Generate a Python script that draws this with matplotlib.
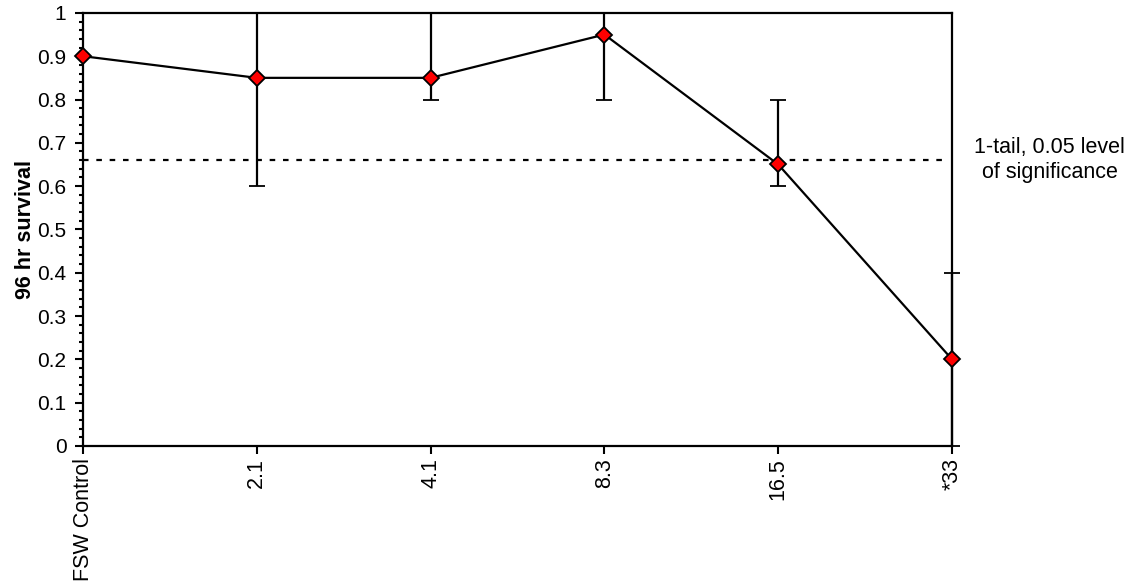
import matplotlib.pyplot as plt
import numpy as np
from matplotlib.ticker import MultipleLocator, FuncFormatter

plt.rcParams['font.family'] = ['Liberation Sans', 'DejaVu Sans']

# survival at 96 hr per treatment
concentracoes = ['FSW Control', '2.1', '4.1', '8.3', '16.5', '*33']
sobrevivencia = [0.9, 0.85, 0.85, 0.95, 0.65, 0.2]
limite_inf = [0.9, 0.6, 0.8, 0.8, 0.6, 0.0]
limite_sup = [0.9, 1.0, 1.0, 1.0, 0.8, 0.4]
significancia = 0.66

x = np.arange(len(concentracoes))
y = np.array(sobrevivencia)
erro = [y - np.array(limite_inf), np.array(limite_sup) - y]

fig = plt.figure(figsize=(11.47, 5.86), dpi=100)
ax = fig.add_axes([0.0724, 0.239, 0.7576, 0.739])

ax.errorbar(x, y, yerr=erro, color='black', lw=1.6, capsize=6, capthick=1.6,
            marker='D', markersize=8, markerfacecolor='red',
            markeredgecolor='black', markeredgewidth=1.3, clip_on=False, zorder=3)
ax.plot([0, 4.95], [significancia, significancia], color='black', lw=1.6,
        linestyle=(0, (2.5, 3.5)))

ax.set_xlim(0, 5)
ax.set_ylim(0, 1)
ax.set_xticks(x)
ax.set_xticklabels(concentracoes, rotation=90, fontsize=15.5)
ax.yaxis.set_major_locator(MultipleLocator(0.1))
ax.yaxis.set_minor_locator(MultipleLocator(0.02))
ax.yaxis.set_major_formatter(FuncFormatter(lambda v, p: '%g' % round(v, 2)))
ax.tick_params(axis='y', which='major', direction='out', length=6, width=1.5, labelsize=15, pad=6)
ax.tick_params(axis='y', which='minor', direction='out', length=3, width=1.5)
ax.tick_params(axis='x', direction='out', length=6, width=1.5, pad=3)
ax.set_ylabel('96 hr survival', fontsize=15.5, fontweight='bold', labelpad=1)
for s in ax.spines.values():
    s.set_linewidth(1.6)

fig.text(0.915, 0.727, '1-tail, 0.05 level\nof significance', ha='center', va='center',
         fontsize=15.5, linespacing=1.3)

plt.savefig('out.png', dpi=100)
